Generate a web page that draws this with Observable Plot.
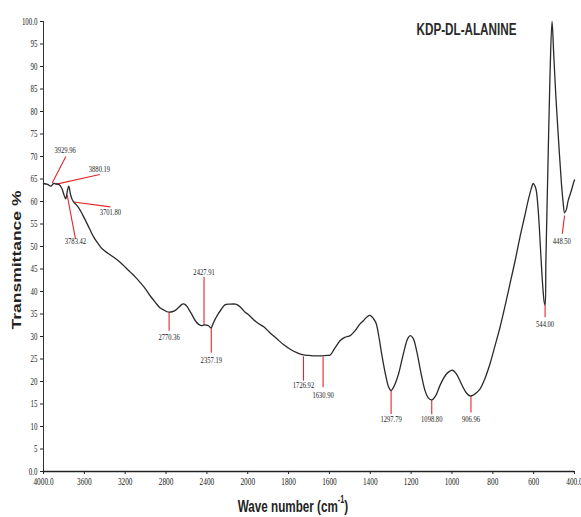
<!DOCTYPE html>
<html>
<head>
<meta charset="utf-8">
<script src="https://cdn.jsdelivr.net/npm/d3@7"></script>
<script src="https://cdn.jsdelivr.net/npm/@observablehq/plot@0.6"></script>
<style>
  html, body { margin: 0; padding: 0; background: #fff; }
</style>
</head>
<body>
<div id="chart"></div>
<script>
// ---- Spectrum (wave number cm-1, transmittance %) ----
const waveNumber = [
  4000, 3960, 3930, 3900, 3880, 3850, 3820, 3800, 3783, 3765, 3752, 3735, 3720, 3702, 3680, 3655,
  3620, 3589, 3550, 3508, 3470, 3426, 3370, 3312, 3250, 3198, 3150, 3100, 3050, 3002, 2954, 2905,
  2860, 2823, 2790, 2770, 2740, 2709, 2670, 2640, 2620, 2595, 2579, 2545, 2513, 2480, 2448, 2428,
  2400, 2383, 2360, 2340, 2320, 2301, 2260, 2220, 2170, 2120, 2106, 2070, 2025, 2000, 1955, 1920,
  1890, 1860, 1825, 1790, 1760, 1727, 1700, 1670, 1637, 1610, 1596, 1575, 1547, 1525, 1498, 1474,
  1450, 1434, 1415, 1401, 1385, 1372, 1358, 1344, 1325, 1310, 1298, 1285, 1262, 1245, 1230, 1218,
  1205, 1190, 1173, 1150, 1132, 1115, 1099, 1080, 1058, 1030, 1010, 997, 980, 953, 930, 912,
  895, 880, 863, 840, 814, 790, 765, 740, 716, 690, 667, 645, 627, 612, 602, 592,
  586, 576, 566, 556, 548, 544, 540, 530, 520, 510, 502, 492, 480, 464, 456, 448.5,
  440, 431, 415, 404, 400
];
const transmittance = [
  64.0, 63.8, 63.4, 64.0, 63.9, 63.8, 62.9, 61.5, 60.6, 62.5, 63.4, 61.5, 60.5, 59.8, 59.3, 58.6,
  57.2, 55.8, 54.0, 52.1, 50.8, 49.5, 48.5, 47.6, 46.5, 45.4, 44.3, 43.2, 41.9, 40.6, 39.0, 37.6,
  36.4, 35.9, 35.5, 35.4, 35.5, 35.8, 36.6, 37.2, 37.2, 36.7, 36.1, 34.8, 33.5, 32.7, 32.4, 32.6,
  32.5, 32.4, 31.9, 32.8, 33.8, 34.6, 36.0, 37.1, 37.2, 37.2, 37.1, 36.5, 35.4, 35.0, 33.1, 32.1,
  30.8, 29.6, 28.2, 27.1, 26.4, 25.9, 25.8, 25.7, 25.7, 25.8, 25.9, 27.3, 29.1, 29.8, 30.2, 31.3,
  32.8, 33.5, 34.4, 34.7, 34.0, 33.0, 30.0, 26.1, 21.5, 18.8, 18.0, 18.8, 21.6, 24.8, 27.6, 29.4,
  30.2, 29.6, 26.8, 21.5, 18.0, 16.3, 15.9, 16.8, 19.2, 21.5, 22.3, 22.5, 21.8, 19.4, 17.5, 16.8,
  17.0, 17.5, 18.3, 20.5, 23.9, 27.8, 32.0, 36.8, 41.7, 47.0, 52.1, 56.5, 60.2, 62.8, 64.0, 63.3,
  62.1, 57.0, 49.1, 41.5, 37.6, 37.0, 47.0, 68.0, 88.0, 100.0, 93.0, 84.0, 75.0, 64.0, 60.0, 57.5,
  58.2, 60.2, 62.5, 64.3, 64.8
];

// ---- Peak annotations (data units) ----
const peakLabels = ["3929.96", "3880.19", "3701.80", "3783.42", "2770.36", "2427.91", "2357.19",
  "1726.92", "1630.90", "1297.79", "1098.80", "906.96", "544.00", "448.50"];
const leaderStartX = [3915, 3883, 3704, 3768, 2770, 2428, 2357, 1727, 1631, 1298, 1099, 907, 544, 448.5];
const leaderStartY = [64.1, 63.8, 59.9, 61.4, 35.4, 32.5, 31.9, 25.6, 25.5, 17.9, 15.9, 16.8, 37.0, 56.9];
const leaderEndX   = [3781, 3449, 3345, 3687, 2770, 2428, 2357, 1727, 1631, 1298, 1099, 907, 544, 460];
const leaderEndY   = [70.0, 66.0, 58.8, 51.7, 31.3, 43.2, 26.4, 20.2, 18.7, 12.8, 12.7, 13.1, 34.3, 52.8];
const labelX = [3788, 3452, 3345, 3687, 2770, 2428, 2357, 1727, 1631, 1298, 1099, 907, 544, 462];
const labelY = [71.4, 67.3, 57.6, 51.1, 29.8, 44.4, 24.8, 19.3, 16.9, 11.7, 11.7, 11.7, 32.8, 51.2];

// ---- Axis ticks ----
const xTicks = [4000, 3600, 3200, 2800, 2400, 2000, 1800, 1600, 1400, 1200, 1000, 800, 600, 400];
const yTicks = [0, 5, 10, 15, 20, 25, 30, 35, 40, 45, 50, 55, 60, 65, 70, 75, 80, 85, 90, 95, 100];

const spectrum = waveNumber.map((w, i) => ({w, t: transmittance[i]}));
const peaks = peakLabels.map((label, i) => ({
  label,
  x1: leaderStartX[i], y1: leaderStartY[i],
  x2: leaderEndX[i], y2: leaderEndY[i],
  lx: labelX[i], ly: labelY[i]
}));

const W = 581, H = 517;
const plotLeft = 43, plotRight = 574, plotTop = 21, plotBottom = 471;
const step = (plotRight - plotLeft) / 13;

const chart = Plot.plot({
  width: W, height: H,
  marginLeft: plotLeft, marginRight: W - plotRight, marginTop: plotTop, marginBottom: H - plotBottom,
  x: {type: "linear", domain: [4000, 2000, 400], range: [plotLeft, plotLeft + 5 * step, plotRight]},
  y: {domain: [0, 100], range: [plotBottom, plotTop]},
  style: {fontFamily: "'Liberation Serif', 'Times New Roman', serif", color: "#222", background: "#fff"},
  marks: [
    Plot.ruleX([4000], {stroke: "#333", strokeWidth: 1}),
    Plot.ruleY([0], {stroke: "#222", strokeWidth: 1.7}),
    Plot.axisY({ticks: yTicks, tickSize: 3, tickPadding: 3, fontSize: 9.5, label: null,
      tickFormat: d => (d === 0 || d === 100) ? d.toFixed(1) : String(d)}),
    Plot.axisX({ticks: xTicks, tickSize: 3, tickPadding: 3.5, fontSize: 10, label: null,
      tickFormat: d => (d === 4000 || d === 400) ? d.toFixed(1) : String(d)}),
    Plot.link(peaks, {x1: "x1", y1: "y1", x2: "x2", y2: "y2", stroke: "#e3262b", strokeWidth: 1.1}),
    Plot.line(spectrum, {x: "w", y: "t", stroke: "#2a2a2a", strokeWidth: 1.3, curve: "catmull-rom"}),
    Plot.text(peaks, {x: "lx", y: "ly", text: "label", fontSize: 9, fill: "#222", lineAnchor: "middle"})
  ]
});

document.getElementById("chart").append(chart);
const svg = d3.select(chart);

// In-chart title
svg.append("text")
  .attr("x", 466.5).attr("y", 29)
  .attr("text-anchor", "middle").attr("dominant-baseline", "central")
  .attr("font-family", "'Liberation Sans', Arial, sans-serif")
  .attr("font-weight", "bold").attr("font-size", 16).attr("fill", "#2a2a2a")
  .text("KDP-DL-ALANINE");

// Horizontal squeeze of all horizontal text (original picture is condensed)
svg.selectAll("text").each(function() {
  const len = this.getComputedTextLength();
  if (len > 0) {
    this.setAttribute("textLength", (len * 0.73).toFixed(2));
    this.setAttribute("lengthAdjust", "spacingAndGlyphs");
  }
});

// X axis title with superscript (condensed via transform)
const xt = svg.append("text")
  .attr("transform", "translate(293,506) scale(0.73,1)")
  .attr("text-anchor", "middle").attr("dominant-baseline", "central")
  .attr("font-family", "'Liberation Sans', Arial, sans-serif")
  .attr("font-weight", "bold").attr("font-size", 16).attr("fill", "#222");
xt.append("tspan").text("Wave number (cm");
xt.append("tspan").attr("font-size", 10).attr("dy", -6).text("-1");
xt.append("tspan").attr("dy", 6).text(")");

// Y axis title (rotated, squeezed across)
svg.append("text")
  .attr("transform", "translate(16,260) scale(0.75,1) rotate(-90)")
  .attr("text-anchor", "middle").attr("dominant-baseline", "central")
  .attr("font-family", "'Liberation Sans', Arial, sans-serif")
  .attr("font-weight", "bold").attr("font-size", 17.5).attr("fill", "#222")
  .text("Transmittance %");
</script>
</body>
</html>
